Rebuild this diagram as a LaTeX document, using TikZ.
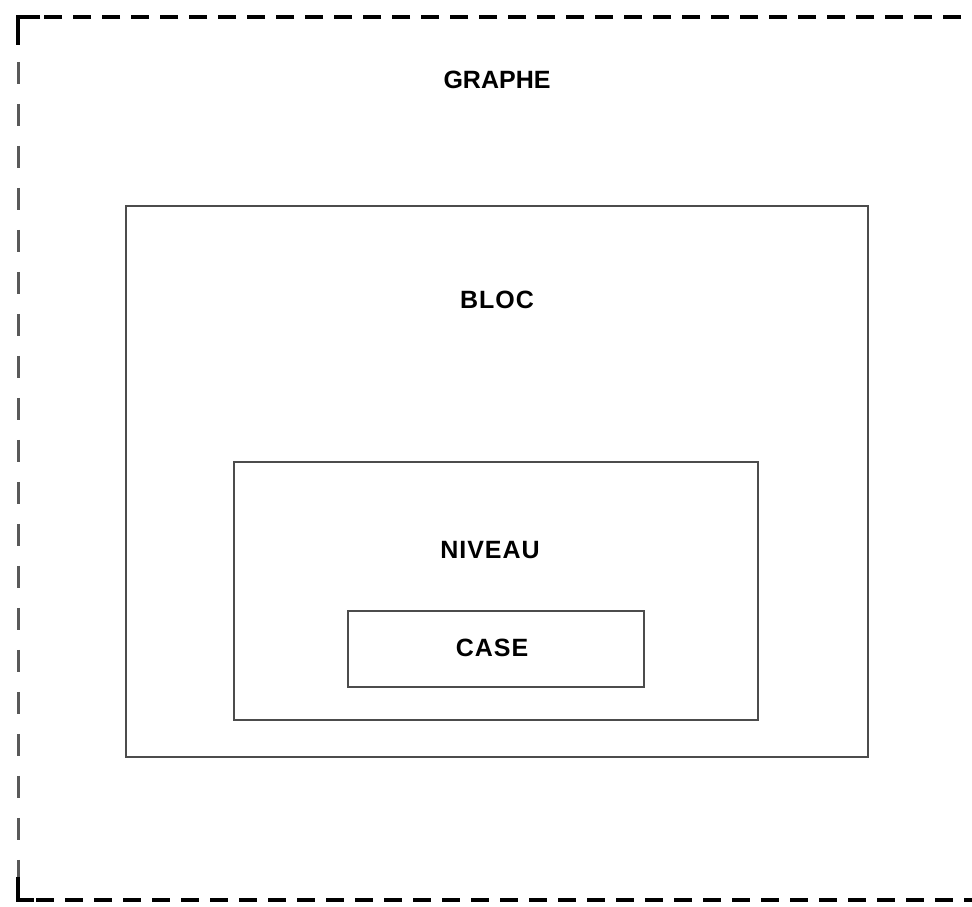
\documentclass[tikz,border=0pt]{standalone}
\usepackage{fontspec}
\setmainfont{Liberation Sans}
\begin{document}
\begin{tikzpicture}[x=1pt,y=1pt,
  box/.style={draw=black!70,line width=2.4pt},
  lbl/.style={font=\fontsize{25}{30}\selectfont\bfseries,text=black,inner sep=0pt}]
\useasboundingbox (0,0) rectangle (972,907);
\clip (0,0) rectangle (972,907);
% outer dashed frame (right edge runs off the picture)
\draw[line width=4pt,dash pattern=on 18pt off 11pt] (990,890) -- (40,890);
\draw[line width=4pt,dash pattern=on 18pt off 11pt] (36,7) -- (990,7);
\draw[line width=3pt,black!65,dash pattern=on 22pt off 20pt] (18,845) -- (18,30);
\draw[line width=4pt] (40,890) -- (18,890) -- (18,862);
\draw[line width=4pt] (18,30) -- (18,7) -- (34,7);
% boxes
\draw[box] (126,701) rectangle (868,150);
\draw[box] (234,445) rectangle (758,187);
\draw[box] (348,296) rectangle (644,220);
% labels
\node[lbl] (graphe) at (497,827) {GRAPHE};
\node[lbl] (bloc) at (497,607) {B\kern1pt L\kern1pt O\kern1pt C};
\node[lbl] (niveau) at (490,357) {N\kern1pt I\kern1pt V\kern1pt E\kern1pt A\kern1pt U};
\node[lbl] (case) at (492,259) {C\kern1pt A\kern1pt S\kern1pt E};
\end{tikzpicture}
\end{document}
